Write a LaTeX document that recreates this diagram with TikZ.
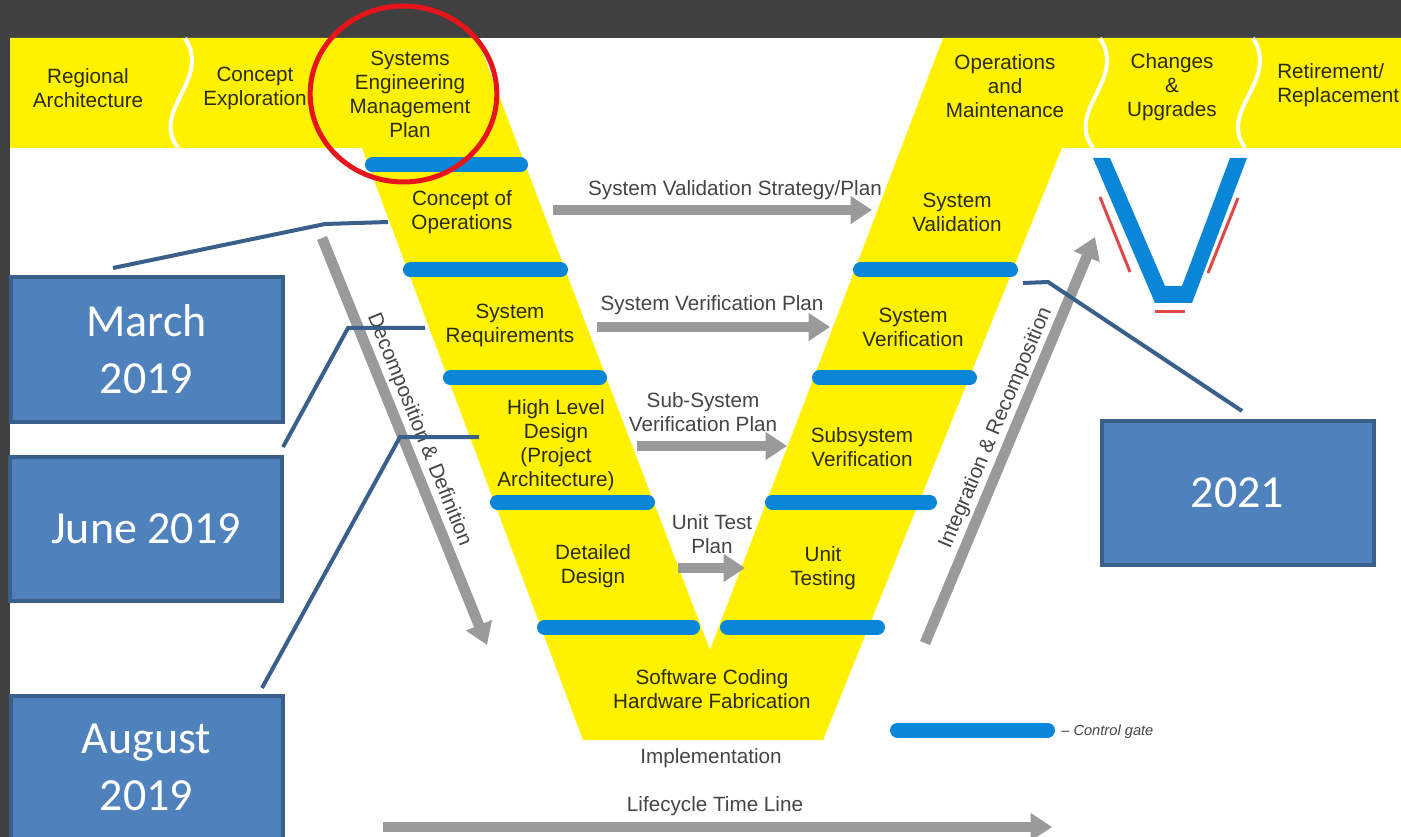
\documentclass[tikz,border=0pt]{standalone}
\usepackage{fontspec}
\setmainfont{Liberation Sans}
\newfontfamily\boxfont{Carlito}
\usetikzlibrary{arrows.meta}
\definecolor{bg}{HTML}{404040}
\definecolor{vyel}{HTML}{FFF200}
\definecolor{gate}{HTML}{0A86D8}
\definecolor{garrow}{HTML}{9A9A9A}
\definecolor{vtext}{HTML}{2B2B10}
\definecolor{gtext}{HTML}{454545}
\definecolor{bfill}{HTML}{4F81BD}
\definecolor{bedge}{HTML}{3A5F8B}
\definecolor{cred}{HTML}{E8141B}
\definecolor{lred}{HTML}{E04848}
\begin{document}
\begin{tikzpicture}[x=0.75pt,y=-0.75pt,
  vlab/.style={font=\fontsize{15.5}{18}\selectfont, text=vtext, align=center, inner sep=0pt},
  alab/.style={font=\fontsize{15.5}{18}\selectfont, text=gtext, align=center, inner sep=0pt},
  gatebar/.style={draw=gate, line width=11.25pt, line cap=round},
  garr/.style={draw=garrow, line width=8pt, -{Triangle[length=16pt,width=20pt]}},
  datebox/.style={draw=bedge, line width=3pt, fill=bfill, text=white,
    font=\boxfont\fontsize{34.5}{42.75}\selectfont, align=center,
    minimum width=204pt, minimum height=108pt, inner sep=0pt},
  conn/.style={draw=bedge, line width=3pt},
  sep/.style={draw=white, line width=3pt}
]
\useasboundingbox (0,0) rectangle (1401,837);
\fill[bg] (0,0) rectangle (1401,837);
\fill[white] (10,38) rectangle (1401,837);
% yellow V and bands
\fill[vyel] (10,38) -- (477,38) -- (710,650) -- (943,38) -- (1401,38) -- (1401,148)
  -- (1062,148) -- (823,740) -- (583,740) -- (362,148) -- (10,148) -- cycle;
% white separators
\draw[sep] (185,38) .. controls (212,80) and (150,110) .. (178,148);
\draw[sep] (1100,38) .. controls (1127,80) and (1065,110) .. (1093,148);
\draw[sep] (1253,38) .. controls (1280,80) and (1218,110) .. (1245,148);
% control gates
\draw[gatebar] (372.5,165) -- (520.5,165);
\draw[gatebar] (410.5,270) -- (560.5,270);
\draw[gatebar] (450.5,378) -- (599.5,378);
\draw[gatebar] (497.5,502) -- (647.5,502);
\draw[gatebar] (544.5,627) -- (692.5,627);
\draw[gatebar] (860.5,270) -- (1010.5,270);
\draw[gatebar] (819.5,378) -- (969.5,378);
\draw[gatebar] (772.5,502) -- (929.5,502);
\draw[gatebar] (727.5,627) -- (877.5,627);
\draw[gatebar] (897.5,730) -- (1047.5,730);
% gray arrows
\coordinate (vals) at (553,210); \coordinate (vale) at (872,210);
\coordinate (vers) at (597,327); \coordinate (vere) at (830,327);
\coordinate (subs) at (637,446); \coordinate (sube) at (787,446);
\coordinate (uts) at (678,568);  \coordinate (ute) at (745,568);
\coordinate (lifes) at (383,827); \coordinate (lifee) at (1052,827);
\coordinate (decs) at (322,238); \coordinate (dece) at (487,645);
\coordinate (ints) at (925,643); \coordinate (inte) at (1095,237);
\draw[garr] (vals) -- (vale);
\draw[garr] (vers) -- (vere);
\draw[garr] (subs) -- (sube);
\draw[garr] (uts) -- (ute);
\draw[garr] (lifes) -- (lifee);
\draw[garr] (decs) -- (dece);
\draw[garr] (ints) -- (inte);
% V labels
\node[vlab] (reg) at (88,88) {Regional\\Architecture};
\node[vlab] (cex) at (255,88) {Concept\\Exploration};
\node[vlab] (semp) at (410,94) {Systems\\Engineering\\Management\\Plan};
\node[vlab] (om) at (1005,86) {Operations\\and\\Maintenance};
\node[vlab] (chg) at (1172,87) {Changes\\\&\\Upgrades};
\node[vlab, anchor=west, align=left] (ret) at (1277,85) {Retirement/\\Replacement};
\node[vlab] (conops) at (462,212) {Concept of\\Operations};
\node[vlab] (sysreq) at (510,325) {System\\Requirements};
\node[vlab] (hld) at (556,445) {High Level\\Design\\(Project\\Architecture)};
\node[vlab] (dd) at (593,566) {Detailed\\Design};
\node[vlab] (swc) at (712,689) {Software Coding\\Hardware Fabrication};
\node[vlab] (ut) at (823,568) {Unit\\Testing};
\node[vlab] (ssv) at (862,447) {Subsystem\\Verification};
\node[vlab] (sver) at (913,327) {System\\Verification};
\node[vlab] (sval) at (957,212) {System\\Validation};
% arrow labels
\node[alab] (valtxt) at (735,190) {System Validation Strategy/Plan};
\node[alab] (vertxt) at (712,305) {System Verification Plan};
\node[alab] (subtxt) at (703,412) {Sub-System\\Verification Plan};
\node[alab] (uttxt) at (712,534) {Unit Test\\Plan};
\node[alab] (impl) at (711,758) {Implementation};
\node[alab] (lifetxt) at (715,806) {Lifecycle Time Line};
\node[alab, rotate=-68] (dectxt) at (419,430) {Decomposition \& Definition};
\node[alab, rotate=67] (inttxt) at (996,428) {Integration \& Recomposition};
\node[font=\itshape\fontsize{11}{12}\selectfont, text=gtext, anchor=west, inner sep=0pt] (cg) at (1061,732) {-- Control gate};
% small V icon
\fill[gate] (1093,158) -- (1155,303) -- (1192,303) -- (1247,158) -- (1230,158)
  -- (1182,286) -- (1165,286) -- (1110,158) -- cycle;
\draw[lred, line width=2.25pt] (1100,197) -- (1130,272);
\draw[lred, line width=2.25pt] (1238,198) -- (1208,273);
\draw[lred, line width=2.25pt] (1155,312) -- (1185,312);
% red circle
\draw[cred, line width=3.75pt] (403.5,94) ellipse [x radius=70pt, y radius=66pt];
% date boxes
\node[datebox] (march) at (146.5,349.5) {March\\2019};
\node[datebox] (june) at (146,528.5) {June 2019};
\node[datebox] (aug) at (146.5,767.5) {August\\2019};
\node[datebox] (y2021) at (1237.5,493) {2021};
% connectors
\coordinate (m0) at (113,268); \coordinate (m1) at (325,224); \coordinate (m2) at (388,222);
\coordinate (j0) at (283,447); \coordinate (j1) at (348,328); \coordinate (j2) at (425,328);
\coordinate (a0) at (262,688); \coordinate (a1) at (400,437); \coordinate (a2) at (479,437);
\coordinate (t0) at (1242,411); \coordinate (t1) at (1048,282); \coordinate (t2) at (1023,283);
\draw[conn] (m0) -- (m1) -- (m2);
\draw[conn] (j0) -- (j1) -- (j2);
\draw[conn] (a0) -- (a1) -- (a2);
\draw[conn] (t0) -- (t1) -- (t2);
\end{tikzpicture}
\end{document}
